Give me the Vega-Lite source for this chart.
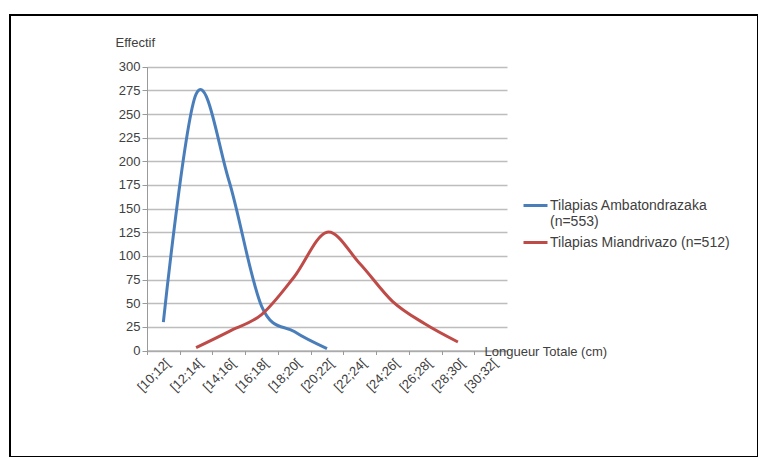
{
  "$schema": "https://vega.github.io/schema/vega-lite/v6.json",
  "description": "Distribution des longueurs totales des tilapias (Ambatondrazaka vs Miandrivazo)",
  "width": 748,
  "height": 442,
  "autosize": {"type": "none"},
  "padding": {"left": 10, "top": 15, "right": 0, "bottom": 0},
  "background": "white",
  "data": {
    "values": [
      {"classe": "[10;12[", "serie": "Tilapias Ambatondrazaka (n=553)", "effectif": 30},
      {"classe": "[12;14[", "serie": "Tilapias Ambatondrazaka (n=553)", "effectif": 271},
      {"classe": "[14;16[", "serie": "Tilapias Ambatondrazaka (n=553)", "effectif": 180},
      {"classe": "[16;18[", "serie": "Tilapias Ambatondrazaka (n=553)", "effectif": 47},
      {"classe": "[18;20[", "serie": "Tilapias Ambatondrazaka (n=553)", "effectif": 20},
      {"classe": "[20;22[", "serie": "Tilapias Ambatondrazaka (n=553)", "effectif": 2},
      {"classe": "[12;14[", "serie": "Tilapias Miandrivazo (n=512)", "effectif": 3},
      {"classe": "[14;16[", "serie": "Tilapias Miandrivazo (n=512)", "effectif": 20},
      {"classe": "[16;18[", "serie": "Tilapias Miandrivazo (n=512)", "effectif": 38},
      {"classe": "[18;20[", "serie": "Tilapias Miandrivazo (n=512)", "effectif": 78},
      {"classe": "[20;22[", "serie": "Tilapias Miandrivazo (n=512)", "effectif": 125},
      {"classe": "[22;24[", "serie": "Tilapias Miandrivazo (n=512)", "effectif": 92},
      {"classe": "[24;26[", "serie": "Tilapias Miandrivazo (n=512)", "effectif": 52},
      {"classe": "[26;28[", "serie": "Tilapias Miandrivazo (n=512)", "effectif": 28},
      {"classe": "[28;30[", "serie": "Tilapias Miandrivazo (n=512)", "effectif": 9}
    ]
  },
  "mark": {"type": "line", "interpolate": "cardinal", "strokeWidth": 3},
  "encoding": {
    "x": {
      "field": "classe",
      "type": "ordinal",
      "scale": {
        "type": "band",
        "domain": ["[10;12[", "[12;14[", "[14;16[", "[16;18[", "[18;20[", "[20;22[", "[22;24[", "[24;26[", "[26;28[", "[28;30[", "[30;32["],
        "range": [137, 497],
        "paddingInner": 0,
        "paddingOuter": 0
      },
      "axis": {
        "title": "Longueur Totale (cm)",
        "offset": -106.5,
        "grid": false,
        "labelAngle": -45,
        "labelFontSize": 13,
        "labelColor": "#404040",
        "tickBand": "extent",
        "tickSize": 4,
        "tickColor": "#9a9a9a",
        "domainColor": "#9a9a9a",
        "titleX": 474,
        "titleY": 1,
        "titleAngle": 0,
        "titleAlign": "left",
        "titleBaseline": "middle",
        "titleFontSize": 13,
        "titleFontWeight": "normal",
        "titleColor": "#404040"
      }
    },
    "y": {
      "field": "effectif",
      "type": "quantitative",
      "scale": {"domain": [0, 300], "range": [335.5, 51.7], "nice": false},
      "axis": {
        "title": "Effectif",
        "offset": -137,
        "values": [0, 25, 50, 75, 100, 125, 150, 175, 200, 225, 250, 275, 300],
        "labelFontSize": 13,
        "labelColor": "#404040",
        "labelPadding": 2,
        "tickSize": 5,
        "tickColor": "#9a9a9a",
        "domainColor": "#9a9a9a",
        "gridColor": "#bdbdbd",
        "gridWidth": 1.5,
        "titleX": -32,
        "titleY": 27,
        "titleAngle": 0,
        "titleAlign": "left",
        "titleBaseline": "middle",
        "titleFontSize": 13,
        "titleFontWeight": "normal",
        "titleColor": "#404040"
      }
    },
    "color": {
      "field": "serie",
      "type": "nominal",
      "scale": {
        "domain": ["Tilapias Ambatondrazaka (n=553)", "Tilapias Miandrivazo (n=512)"],
        "range": ["#4A7EBB", "#BE4B48"]
      },
      "legend": {
        "title": null,
        "orient": "none",
        "legendX": 512,
        "legendY": 177,
        "symbolType": "stroke",
        "symbolSize": 576,
        "symbolStrokeWidth": 3,
        "labelFontSize": 14,
        "labelColor": "#404040",
        "labelOffset": 1,
        "labelLimit": 300,
        "rowPadding": 0,
        "labelExpr": "datum.label == 'Tilapias Ambatondrazaka (n=553)' ? ['Tilapias Ambatondrazaka', '(n=553)'] : datum.label"
      }
    }
  },
  "config": {
    "font": "Liberation Sans",
    "view": {"stroke": "black", "strokeWidth": 2}
  }
}
